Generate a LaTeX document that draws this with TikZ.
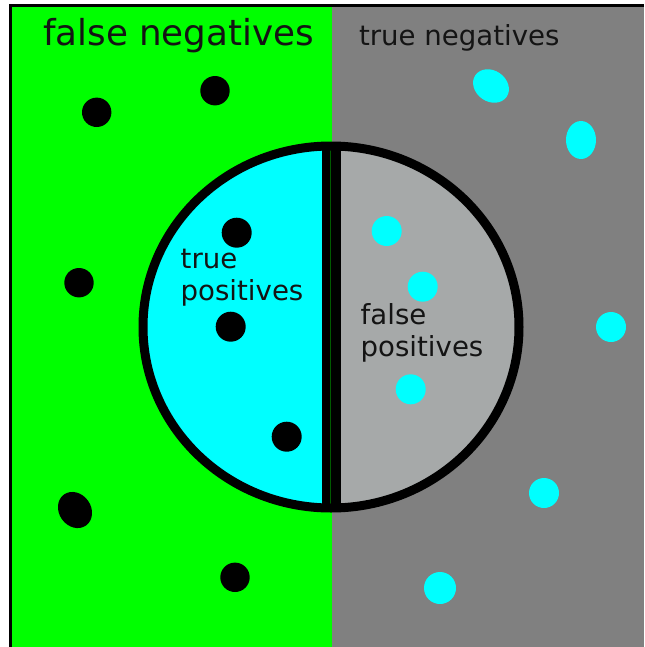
\documentclass[tikz,border=0pt]{standalone}
\usepackage{fontspec}
\setmainfont{DejaVu Sans}
\definecolor{fngreen}{RGB}{0,255,0}
\definecolor{tngray}{RGB}{128,128,128}
\definecolor{fpgray}{RGB}{166,169,169}
\definecolor{tpcyan}{RGB}{0,255,255}
\definecolor{txt}{RGB}{20,20,20}
\definecolor{divgreen}{RGB}{0,90,0}
\tikzset{
  lbl/.style={anchor=base west, inner sep=0pt, outer sep=0pt, text=txt, font=\fontsize{20.7pt}{24pt}\selectfont},
  biglbl/.style={anchor=base west, inner sep=0pt, outer sep=0pt, text=txt, font=\fontsize{26.8pt}{32pt}\selectfont},
  bdot/.style={fill=black},
  cdot/.style={fill=tpcyan}
}
\begin{document}
\begin{tikzpicture}[x=0.75pt,y=-0.75pt]
\useasboundingbox (0,0) rectangle (644,647);
\fill[white] (0,0) rectangle (644,647);
% regions
\fill[fngreen] (10.5,5.5) rectangle (332,647);
\fill[tngray] (332,5.5) rectangle (644,647);
\draw[line width=2.25pt] (10.5,647) -- (10.5,5.5) -- (644,5.5);
% circle halves
\begin{scope}
  \clip (0,0) rectangle (331.5,647);
  \fill[tpcyan] (331,327) ellipse [x radius=188, y radius=181];
\end{scope}
\begin{scope}
  \clip (331.5,0) rectangle (644,647);
  \fill[fpgray] (331,327) ellipse [x radius=188, y radius=181];
\end{scope}
% divider
\fill[black] (322,142) rectangle (341,512);
\draw[divgreen, line width=0.75pt] (330.5,150) -- (330.5,505);
\draw[line width=6.75pt] (331,327) ellipse [x radius=188, y radius=181];
% black dots (false negatives)
\fill[bdot] (96.7,112.3) circle [radius=14.7];
\fill[bdot] (215,90.7) circle [radius=14.7];
\fill[bdot] (79,282.7) circle [radius=14.7];
\fill[bdot, shift={(75,510)}, rotate=-55] (0,0) ellipse [x radius=19, y radius=16];
\fill[bdot] (235,577.3) circle [radius=14.7];
% black dots (true positives)
\fill[bdot] (236.7,232.7) circle [radius=15];
\fill[bdot] (230.7,326.7) circle [radius=15];
\fill[bdot] (286.7,436.7) circle [radius=15];
% cyan dots (false positives)
\fill[cdot] (386.7,231) circle [radius=15];
\fill[cdot] (422.7,286.7) circle [radius=15];
\fill[cdot] (410.7,389.3) circle [radius=15];
% cyan dots (true negatives)
\fill[cdot, shift={(491,86)}, rotate=-35] (0,0) ellipse [x radius=19, y radius=15.5];
\fill[cdot] (581,140) ellipse [x radius=15, y radius=19];
\fill[cdot] (611,327) circle [radius=15];
\fill[cdot] (544,493) circle [radius=15];
\fill[cdot] (440,588) circle [radius=16];
% labels
\node[biglbl] (fn) at (43,45) {false negatives};
\node[lbl] (tn) at (359,45) {true negatives};
\node[lbl] (tp1) at (180.7,268.3) {true};
\node[lbl] (tp2) at (180.7,300.7) {positives};
\node[lbl] (fp1) at (360.7,324.3) {false};
\node[lbl] (fp2) at (360.7,356.7) {positives};
\end{tikzpicture}
\end{document}
